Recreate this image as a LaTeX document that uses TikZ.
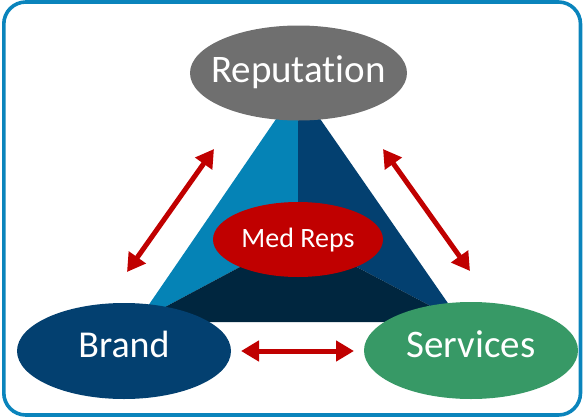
\documentclass[tikz,border=0pt]{standalone}
\usepackage{fontspec}
\setmainfont[Ligatures=NoCommon]{Carlito}
\usetikzlibrary{shapes.geometric,arrows.meta}
\definecolor{frameblue}{HTML}{0A84BC}
\definecolor{lightblue}{HTML}{0583B6}
\definecolor{darkblue}{HTML}{034070}
\definecolor{navy}{HTML}{00263F}
\definecolor{repgray}{HTML}{6F6F6F}
\definecolor{medred}{HTML}{C00000}
\definecolor{svgreen}{HTML}{379966}
\tikzset{
  oval/.style={ellipse, inner sep=0pt, outer sep=0pt},
  ovaltext/.style={text=white, inner sep=0pt, text height=0pt, text depth=0pt},
  dblarrow/.style={medred, line width=5pt, {Triangle[length=18pt,width=20pt]}-{Triangle[length=18pt,width=20pt]}},
}
\begin{document}
\begin{tikzpicture}[x=1pt,y=-1pt]
\useasboundingbox (0,0) rectangle (584,418);
% frame
\draw[frameblue, line width=3.6pt, rounded corners=22pt] (3.8,2) rectangle (580.5,415);
% triangle
\coordinate (apex) at (298,87);
\coordinate (bl) at (137,322);
\coordinate (br) at (461,322);
\coordinate (cen) at (298,236);
\fill[lightblue] (apex) -- (cen) -- (bl) -- cycle;
\fill[darkblue] (apex) -- (br) -- (cen) -- cycle;
\fill[navy] (bl) -- (cen) -- (br) -- cycle;
% ovals
\node[oval, fill=medred, minimum width=170pt, minimum height=75pt,
  label={[ovaltext, yshift=-7.5pt, font=\fontsize{28}{30}\selectfont]center:Med Reps}] (med) at (298,239.5) {};
\node[oval, fill=repgray, minimum width=217pt, minimum height=95pt,
  label={[ovaltext, yshift=-9pt, font=\fontsize{39}{44}\selectfont]center:Reputation}] (rep) at (298.5,73) {};
\node[oval, fill=darkblue, minimum width=214pt, minimum height=96pt,
  label={[ovaltext, yshift=-6pt, font=\fontsize{38}{44}\selectfont]center:Brand}] (brand) at (124,351) {};
\node[oval, fill=svgreen, minimum width=214pt, minimum height=97pt,
  label={[ovaltext, yshift=-6.5pt, font=\fontsize{39}{44}\selectfont]center:Services}] (serv) at (471,350.5) {};
% arrow ends
\coordinate (la1) at (214,149);
\coordinate (la2) at (127,272);
\coordinate (ra1) at (383,149);
\coordinate (ra2) at (470,271);
\coordinate (ba1) at (241,351);
\coordinate (ba2) at (354,351);
\draw[dblarrow] (la2) -- (la1);
\draw[dblarrow] (ra1) -- (ra2);
\draw[dblarrow] (ba1) -- (ba2);
\end{tikzpicture}
\end{document}
